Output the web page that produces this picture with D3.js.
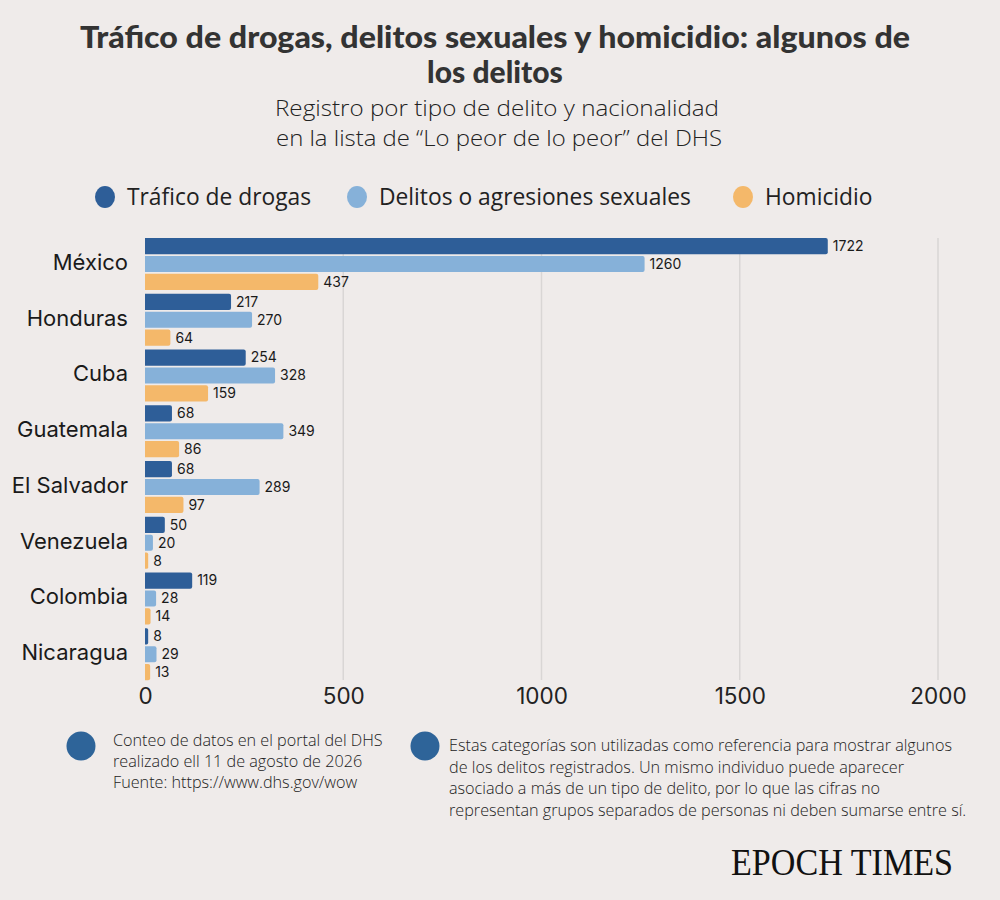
<!DOCTYPE html>
<html lang="es">
<head>
<meta charset="UTF-8">
<script src="https://d3js.org/d3.v7.min.js"></script>
<title>Lo peor de lo peor</title>
<style>
  body { margin: 0; background: #efebea; }
  svg { display: block; }
</style>
</head>
<body>
<svg class="chart"></svg>
<script>
// data
const countries = ['México', 'Honduras', 'Cuba', 'Guatemala', 'El Salvador', 'Venezuela', 'Colombia', 'Nicaragua'];
const series = ['Tráfico de drogas', 'Delitos o agresiones sexuales', 'Homicidio'];
const drogas = [1722, 217, 254, 68, 68, 50, 119, 8];
const sexuales = [1260, 270, 328, 349, 289, 20, 28, 29];
const homicidio = [437, 64, 159, 86, 97, 8, 14, 13];
const xTicks = [0, 500, 1000, 1500, 2000];
const colors = ['#2e5e98', '#86b1d9', '#f4b86a'];

let width = 1000;
let height = 900;

let svg = d3.select('.chart').attr('width', width).attr('height', height);
svg.append('rect').attr('width', width).attr('height', height).attr('fill', '#efebea');

// titles
let titleStyle = function (sel) {
    sel.attr('text-anchor', 'middle')
        .style('font-family', 'Lato').style('font-weight', 900)
        .style('font-size', '30px').style('fill', '#333');
};
svg.append('text').call(titleStyle)
    .attr('x', 495).attr('y', 48)
    .attr('textLength', 830).attr('lengthAdjust', 'spacingAndGlyphs')
    .text('Tráfico de drogas, delitos sexuales y homicidio: algunos de');
svg.append('text').call(titleStyle)
    .attr('x', 495).attr('y', 83)
    .text('los delitos');

let sub = svg.append('text')
    .attr('text-anchor', 'middle')
    .style('font-family', 'Open Sans').style('font-weight', 300)
    .style('font-size', '22px').style('fill', '#222');
sub.append('tspan').attr('x', 497).attr('y', 116)
    .attr('textLength', 444).attr('lengthAdjust', 'spacingAndGlyphs')
    .text('Registro por tipo de delito y nacionalidad');
sub.append('tspan').attr('x', 499).attr('y', 146)
    .attr('textLength', 446).attr('lengthAdjust', 'spacingAndGlyphs')
    .text('en la lista de “Lo peor de lo peor” del DHS');

// legend
let legendX = [105, 357, 743];
let legend = svg.selectAll('.legend')
    .data(series)
    .enter()
    .append('g')
    .attr('class', 'legend')
    .attr('transform', function (d, i) { return 'translate(' + legendX[i] + ',197)'; });
legend.append('ellipse').attr('rx', 10).attr('ry', 11).attr('fill', function (d, i) { return colors[i]; });
legend.append('text')
    .attr('x', 22).attr('y', 8)
    .style('font-family', 'Open Sans').style('font-weight', 400)
    .style('font-size', '22.8px').style('fill', '#222')
    .text(function (d) { return d; });

// scales
let x = d3.scaleLinear().domain([0, 2000]).range([145, 938]);
let y0 = d3.scaleBand().domain(countries).range([238, 684]);
let y1 = d3.scaleBand().domain(series).range([0, 52]).paddingInner(0.1);

// grid
svg.append('g')
    .selectAll('line')
    .data(xTicks.slice(1))
    .enter()
    .append('line')
    .attr('x1', function (d) { return x(d); })
    .attr('x2', function (d) { return x(d); })
    .attr('y1', 238).attr('y2', 680)
    .style('stroke', '#d9d6d5').style('stroke-width', 1.5);

// x axis labels
let xAxis = svg.append('g')
    .attr('transform', 'translate(0,688)')
    .call(d3.axisBottom(x).tickValues(xTicks).tickSize(0).tickPadding(0).tickFormat(d3.format('d')));
xAxis.select('.domain').remove();
xAxis.selectAll('text')
    .attr('dy', '0.71em')
    .style('font-family', 'Inter').style('font-size', '22.5px').style('fill', '#222');

// country labels
let yAxis = svg.append('g')
    .attr('transform', 'translate(128,-3)')
    .call(d3.axisLeft(y0).tickSize(0).tickPadding(0));
yAxis.select('.domain').remove();
yAxis.selectAll('text')
    .style('font-family', 'Inter').style('font-size', '22px').style('fill', '#1a1a1a');

// bars
let rows = countries.map(function (c, i) {
    return { country: c, values: [drogas[i], sexuales[i], homicidio[i]] };
});

let groups = svg.selectAll('.group')
    .data(rows)
    .enter()
    .append('g')
    .attr('class', 'group')
    .attr('transform', function (d) { return 'translate(0,' + y0(d.country) + ')'; });

let cells = groups.selectAll('g')
    .data(function (d) {
        return d.values.map(function (v, i) { return { key: series[i], value: v, idx: i }; });
    })
    .enter()
    .append('g');

cells.append('path')
    .attr('fill', function (d) { return colors[d.idx]; })
    .attr('d', function (d) {
        let x0 = x(0), x1 = x(d.value), top = y1(d.key), h = y1.bandwidth();
        let r = Math.min(2, (x1 - x0) / 2);
        return 'M' + x0 + ',' + top + 'H' + (x1 - r) + 'Q' + x1 + ',' + top + ' ' + x1 + ',' + (top + r) +
            'V' + (top + h - r) + 'Q' + x1 + ',' + (top + h) + ' ' + (x1 - r) + ',' + (top + h) + 'H' + x0 + 'Z';
    });

cells.append('text')
    .attr('x', function (d) { return x(d.value) + 5; })
    .attr('y', function (d) { return y1(d.key) + y1.bandwidth() / 2; })
    .attr('dy', '0.35em')
    .style('font-family', 'Inter').style('font-size', '14px').style('fill', '#1a1a1a')
    .text(function (d) { return d.value; });

// footnotes
let noteStyle = function (sel) {
    sel.style('font-family', 'Open Sans').style('font-weight', 300)
        .style('font-size', '16.2px').style('fill', '#222');
};
svg.append('ellipse').attr('cx', 81).attr('cy', 746).attr('rx', 14.5).attr('ry', 14.5).attr('fill', '#2e6499');
svg.append('ellipse').attr('cx', 425).attr('cy', 746).attr('rx', 14.5).attr('ry', 14.5).attr('fill', '#2e6499');

let note1 = svg.append('text').call(noteStyle);
['Conteo de datos en el portal del DHS', 'realizado ell 11 de agosto de 2026', 'Fuente: https://www.dhs.gov/wow']
    .forEach(function (t, i) {
        note1.append('tspan').attr('x', 113).attr('y', 746 + i * 21).text(t);
    });

let note2 = svg.append('text').call(noteStyle);
['Estas categorías son utilizadas como referencia para mostrar algunos',
 'de los delitos registrados. Un mismo individuo puede aparecer',
 'asociado a más de un tipo de delito, por lo que las cifras no',
 'representan grupos separados de personas ni deben sumarse entre sí.']
    .forEach(function (t, i) {
        note2.append('tspan').attr('x', 449).attr('y', 751 + i * 21.5).text(t);
    });

// logo
svg.append('text')
    .attr('x', 731).attr('y', 875)
    .attr('textLength', 222).attr('lengthAdjust', 'spacingAndGlyphs')
    .style('font-family', 'Liberation Serif').style('font-size', '38px').style('fill', '#111')
    .text('EPOCH TIMES');
</script>
</body>
</html>
